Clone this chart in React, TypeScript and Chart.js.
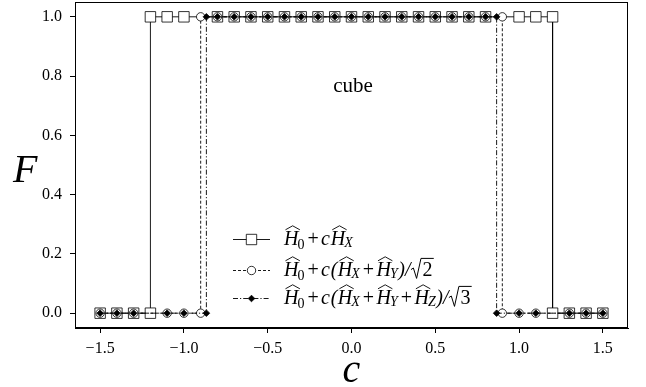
import React, { useEffect, useRef } from 'react';
import { Chart, registerables } from 'chart.js';

Chart.register(...registerables);

// ---- data ----
const sqX = [-1.5, -1.4, -1.3, -1.2, -1.2, -1.1, -1.0, -0.8, -0.7, -0.6, -0.5, -0.4, -0.3, -0.2, -0.1, 0.0, 0.1, 0.2, 0.3, 0.4, 0.5, 0.6, 0.7, 0.8, 1.0, 1.1, 1.2, 1.2, 1.3, 1.4, 1.5];
const sqY = [0, 0, 0, 0, 1, 1, 1, 1, 1, 1, 1, 1, 1, 1, 1, 1, 1, 1, 1, 1, 1, 1, 1, 1, 1, 1, 1, 0, 0, 0, 0];
const ciX = [-1.5, -1.4, -1.3, -1.1, -1.0, -0.9, -0.9, -0.8, -0.7, -0.6, -0.5, -0.4, -0.3, -0.2, -0.1, 0.0, 0.1, 0.2, 0.3, 0.4, 0.5, 0.6, 0.7, 0.8, 0.9, 0.9, 1.0, 1.1, 1.3, 1.4, 1.5];
const ciY = [0, 0, 0, 0, 0, 0, 1, 1, 1, 1, 1, 1, 1, 1, 1, 1, 1, 1, 1, 1, 1, 1, 1, 1, 1, 0, 0, 0, 0, 0, 0];
const diX = [-1.5, -1.4, -1.3, -1.1, -1.0, -0.866, -0.866, -0.8, -0.7, -0.6, -0.5, -0.4, -0.3, -0.2, -0.1, 0.0, 0.1, 0.2, 0.3, 0.4, 0.5, 0.6, 0.7, 0.8, 0.866, 0.866, 1.0, 1.1, 1.3, 1.4, 1.5];
const diY = [0, 0, 0, 0, 0, 0, 1, 1, 1, 1, 1, 1, 1, 1, 1, 1, 1, 1, 1, 1, 1, 1, 1, 1, 1, 0, 0, 0, 0, 0, 0];

const xTicks = [-1.5, -1.0, -0.5, 0.0, 0.5, 1.0, 1.5];
const yTicks = [0.0, 0.2, 0.4, 0.6, 0.8, 1.0];
const annotationText = 'cube';
const xTitle = 'c';
const yTitle = 'F';

type Tok =
  | { k: 'H'; sub: string; subIt: boolean }
  | { k: 'op'; s: string }
  | { k: 'it'; s: string }
  | { k: 'rm'; s: string }
  | { k: 'sqrt'; s: string };

const legend1: Tok[] = [
  { k: 'H', sub: '0', subIt: false }, { k: 'op', s: '+' }, { k: 'it', s: 'c' }, { k: 'H', sub: 'X', subIt: true },
];
const legend2: Tok[] = [
  { k: 'H', sub: '0', subIt: false }, { k: 'op', s: '+' }, { k: 'it', s: 'c' }, { k: 'rm', s: '(' },
  { k: 'H', sub: 'X', subIt: true }, { k: 'op', s: '+' }, { k: 'H', sub: 'Y', subIt: true },
  { k: 'rm', s: ')/' }, { k: 'sqrt', s: '2' },
];
const legend3: Tok[] = [
  { k: 'H', sub: '0', subIt: false }, { k: 'op', s: '+' }, { k: 'it', s: 'c' }, { k: 'rm', s: '(' },
  { k: 'H', sub: 'X', subIt: true }, { k: 'op', s: '+' }, { k: 'H', sub: 'Y', subIt: true },
  { k: 'op', s: '+' }, { k: 'H', sub: 'Z', subIt: true },
  { k: 'rm', s: ')/' }, { k: 'sqrt', s: '3' },
];

const FONT = '"Liberation Serif", "Times New Roman", serif';

const pts = (xs: number[], ys: number[]) => xs.map((x, i) => ({ x, y: ys[i] }));
const fmt = (v: number) => (v < 0 ? '\u2212' + Math.abs(v).toFixed(1) : v.toFixed(1));

function drawMath(ctx: CanvasRenderingContext2D, toks: Tok[], x0: number, y: number, f: number) {
  const it = `italic ${f}px ${FONT}`;
  const rm = `${f}px ${FONT}`;
  const sf = Math.round(f * 0.68);
  let x = x0;
  ctx.fillStyle = '#000';
  ctx.strokeStyle = '#000';
  ctx.lineWidth = 0.9;
  ctx.textBaseline = 'alphabetic';
  ctx.textAlign = 'left';
  for (const t of toks) {
    if (t.k === 'H') {
      ctx.font = it;
      const w = ctx.measureText('H').width;
      ctx.fillText('H', x, y);
      const top = y - f * 0.66 - 2;
      ctx.beginPath();
      ctx.moveTo(x + 0.1 * w, top);
      ctx.lineTo(x + 0.6 * w, top - 0.2 * f);
      ctx.lineTo(x + 1.1 * w, top);
      ctx.stroke();
      x += w - 0.05 * f;
      ctx.font = t.subIt ? `italic ${sf}px ${FONT}` : `${sf}px ${FONT}`;
      ctx.fillText(t.sub, x, y + (t.subIt ? 0.12 : 0.2) * f);
      x += ctx.measureText(t.sub).width + 0.03 * f;
    } else if (t.k === 'op') {
      ctx.font = rm;
      x += 0.12 * f;
      ctx.fillText(t.s, x, y);
      x += ctx.measureText(t.s).width + 0.12 * f;
    } else if (t.k === 'it') {
      ctx.font = it;
      ctx.fillText(t.s, x, y);
      x += ctx.measureText(t.s).width + 0.04 * f;
    } else if (t.k === 'rm') {
      ctx.font = it;
      ctx.fillText(t.s, x, y);
      x += ctx.measureText(t.s).width + 0.02 * f;
    } else if (t.k === 'sqrt') {
      ctx.font = rm;
      const dw = ctx.measureText(t.s).width;
      ctx.lineWidth = 1;
      ctx.beginPath();
      ctx.moveTo(x, y - 0.32 * f);
      ctx.lineTo(x + 0.12 * f, y - 0.4 * f);
      ctx.lineTo(x + 0.28 * f, y + 0.12 * f);
      ctx.lineTo(x + 0.5 * f, y - 0.88 * f);
      ctx.lineTo(x + 0.58 * f + dw + 0.06 * f, y - 0.88 * f);
      ctx.stroke();
      ctx.lineWidth = 0.9;
      ctx.fillText(t.s, x + 0.58 * f, y);
      x += 0.58 * f + dw + 0.06 * f;
    }
  }
}

function drawMarker(ctx: CanvasRenderingContext2D, kind: string, x: number, y: number) {
  ctx.setLineDash([]);
  ctx.lineWidth = 0.8;
  ctx.strokeStyle = '#000';
  ctx.beginPath();
  if (kind === 'rect') {
    ctx.rect(x - 5.2, y - 5.2, 10.4, 10.4);
    ctx.fillStyle = '#fff';
  } else if (kind === 'circle') {
    ctx.arc(x, y, 4.2, 0, Math.PI * 2);
    ctx.fillStyle = '#fff';
  } else {
    ctx.moveTo(x, y - 3.3);
    ctx.lineTo(x + 3.3, y);
    ctx.lineTo(x, y + 3.3);
    ctx.lineTo(x - 3.3, y);
    ctx.closePath();
    ctx.fillStyle = '#000';
  }
  ctx.fill();
  ctx.stroke();
}

const legendEntries = [
  { toks: legend1, dash: [] as number[], marker: 'rect' },
  { toks: legend2, dash: [3, 2], marker: 'circle' },
  { toks: legend3, dash: [5, 2, 1.2, 2], marker: 'diamond' },
];
const legendYs = [239, 270, 298];

const decorPlugin = {
  id: 'decor',
  afterDraw(chart: any) {
    const ctx: CanvasRenderingContext2D = chart.ctx;
    const a = chart.chartArea;
    ctx.save();
    // frame
    ctx.strokeStyle = '#000';
    ctx.lineWidth = 1;
    ctx.setLineDash([]);
    ctx.strokeRect(Math.round(a.left) + 0.5, Math.round(a.top) + 0.5, Math.round(a.right - a.left) - 1, Math.round(a.bottom - a.top) - 1);
    // axis titles
    ctx.fillStyle = '#000';
    ctx.font = `italic 40px ${FONT}`;
    ctx.textAlign = 'left';
    ctx.textBaseline = 'alphabetic';
    ctx.fillText(yTitle, 13, 182);
    ctx.textAlign = 'center';
    ctx.fillText(xTitle, (a.left + a.right) / 2, 382);
    // annotation
    ctx.font = `21px ${FONT}`;
    ctx.fillText(annotationText, 353, 92);
    // legend
    legendEntries.forEach((e, i) => {
      const y = legendYs[i];
      ctx.strokeStyle = '#000';
      ctx.lineWidth = 0.9;
      ctx.setLineDash(e.dash);
      ctx.beginPath();
      ctx.moveTo(233, y + 0.5);
      ctx.lineTo(270, y + 0.5);
      ctx.stroke();
      drawMarker(ctx, e.marker, 251.5, y + 0.5);
      drawMath(ctx, e.toks, 284, y + 6, 20);
    });
    ctx.restore();
  },
};

export default function App() {
  const ref = useRef<HTMLCanvasElement>(null);
  useEffect(() => {
    document.body.style.margin = '0';
    const canvas = ref.current!;
    const chart = new Chart(canvas, {
      type: 'line',
      data: {
        datasets: [
          {
            label: 'square',
            data: pts(sqX, sqY),
            borderColor: '#000',
            borderWidth: 0.9,
            pointStyle: 'rect',
            pointRadius: 7.4,
            pointBackgroundColor: '#fff',
            pointBorderColor: '#000',
            pointBorderWidth: 0.8,
            fill: false,
            tension: 0,
            order: 3,
          },
          {
            label: 'circle',
            data: pts(ciX, ciY),
            borderColor: '#000',
            borderWidth: 0.9,
            borderDash: [3, 2],
            pointStyle: 'circle',
            pointRadius: 4.2,
            pointBackgroundColor: '#fff',
            pointBorderColor: '#000',
            pointBorderWidth: 0.8,
            fill: false,
            tension: 0,
            order: 2,
          },
          {
            label: 'diamond',
            data: pts(diX, diY),
            borderColor: '#000',
            borderWidth: 0.9,
            borderDash: [5, 2, 1.2, 2],
            pointStyle: 'rectRot',
            pointRadius: 3.3,
            pointBackgroundColor: '#000',
            pointBorderColor: '#000',
            pointBorderWidth: 0.8,
            fill: false,
            tension: 0,
            order: 1,
          },
        ],
      } as any,
      options: {
        animation: false,
        responsive: false,
        events: [],
        layout: { autoPadding: false, padding: { left: 0, top: 2, right: 18, bottom: 0 } },
        plugins: { legend: { display: false }, tooltip: { enabled: false } },
        scales: {
          x: {
            type: 'linear',
            min: -1.65,
            max: 1.65,
            afterBuildTicks: (s: any) => { s.ticks = xTicks.map((v) => ({ value: v })); },
            afterFit: (s: any) => { s.height = 59; s.paddingLeft = 0; s.paddingRight = 0; },
            ticks: {
              font: { family: FONT, size: 16 },
              color: '#000',
              padding: 6,
              maxRotation: 0,
              autoSkip: false,
              callback: (v: any) => fmt(Number(v)),
            },
            grid: { drawOnChartArea: false, drawTicks: true, tickLength: 5, color: '#000', lineWidth: 1 },
            border: { display: true, color: '#000', width: 1 },
          },
          y: {
            type: 'linear',
            min: -0.05,
            max: 1.05,
            afterBuildTicks: (s: any) => { s.ticks = yTicks.map((v) => ({ value: v })); },
            afterFit: (s: any) => { s.width = 75; s.paddingTop = 0; s.paddingBottom = 0; },
            ticks: {
              font: { family: FONT, size: 16 },
              color: '#000',
              padding: 8,
              autoSkip: false,
              callback: (v: any) => fmt(Number(v)),
            },
            grid: { drawOnChartArea: false, drawTicks: true, tickLength: 5, color: '#000', lineWidth: 1 },
            border: { display: true, color: '#000', width: 1 },
          },
        },
      } as any,
      plugins: [decorPlugin],
    });
    return () => chart.destroy();
  }, []);
  return (
    <div style={{ width: 646, height: 387 }}>
      <canvas ref={ref} width={646} height={387} style={{ display: 'block' }} />
    </div>
  );
}
